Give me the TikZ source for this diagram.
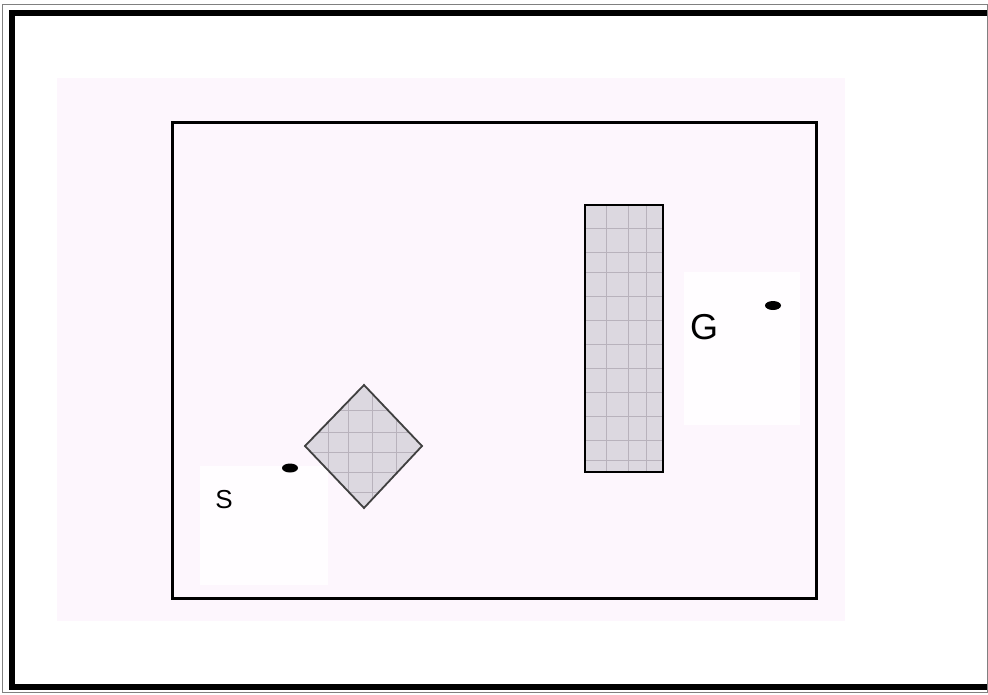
\documentclass[tikz,border=0pt]{standalone}
\usepackage{fontspec}
\setmainfont{Liberation Sans}
\definecolor{bgpink}{HTML}{FDF6FD}
\definecolor{patch}{HTML}{FFFDFF}
\definecolor{obsfill}{HTML}{DCD8E0}
\definecolor{gridc}{HTML}{B8B2BC}
\definecolor{framegray}{HTML}{808080}
\tikzset{
  gridline/.style={draw=gridc, line width=0.9pt},
  pointdot/.style={ellipse, fill=black, inner sep=0pt, minimum width=16pt, minimum height=9pt},
  lbl/.style={font=\fontsize{#1}{#1}\selectfont, inner sep=0pt},
}
\usetikzlibrary{shapes.geometric}
\begin{document}
\begin{tikzpicture}[x=1pt,y=-1pt]
\useasboundingbox (0,0) rectangle (988,694);
\fill[white] (0,0) rectangle (988,694);
% frame
\draw[framegray, line width=1pt] (2.5,4) rectangle (987,692);
\draw[black, line width=6.5pt] (987,13) -- (12,13) -- (12,687) -- (987,687);
% pink background
\fill[bgpink] (57,78) rectangle (845,621);
% white patches
\fill[patch] (200,466) rectangle (328,585);
\fill[patch] (684,272) rectangle (800,425);
% workspace
\draw[black, line width=3pt] (172,122) rectangle (816,598);
% rectangular obstacle
\fill[obsfill] (585,205) rectangle (663,472);
\begin{scope}
\clip (585,205) rectangle (663,472);
\foreach \x in {606,628,646} \draw[gridline] (\x,205) -- (\x,472);
\foreach \y in {228,252,272,296,320,344,368,392,416,440,460} \draw[gridline] (585,\y) -- (663,\y);
\end{scope}
\draw[black, line width=2.2pt] (585,205) rectangle (663,472);
% diamond obstacle
\coordinate (dt) at (364,385);
\coordinate (dr) at (422,446);
\coordinate (db) at (364,508);
\coordinate (dl) at (305,446);
\fill[obsfill] (dt) -- (dr) -- (db) -- (dl) -- cycle;
\begin{scope}
\clip (dt) -- (dr) -- (db) -- (dl) -- cycle;
\foreach \x in {328,348,372,396} \draw[gridline] (\x,385) -- (\x,508);
\foreach \y in {410,432,452,472,492} \draw[gridline] (305,\y) -- (422,\y);
\end{scope}
\draw[black!75, line width=1.8pt, line join=miter] (dt) -- (dr) -- (db) -- (dl) -- cycle;
% points
\node[pointdot] (sdot) at (290,468) {};
\node[lbl=26] (slabel) at (224,500) {S};
\node[pointdot] (gdot) at (773,305.5) {};
\node[lbl=36] (glabel) at (704,327) {G};
\end{tikzpicture}
\end{document}
